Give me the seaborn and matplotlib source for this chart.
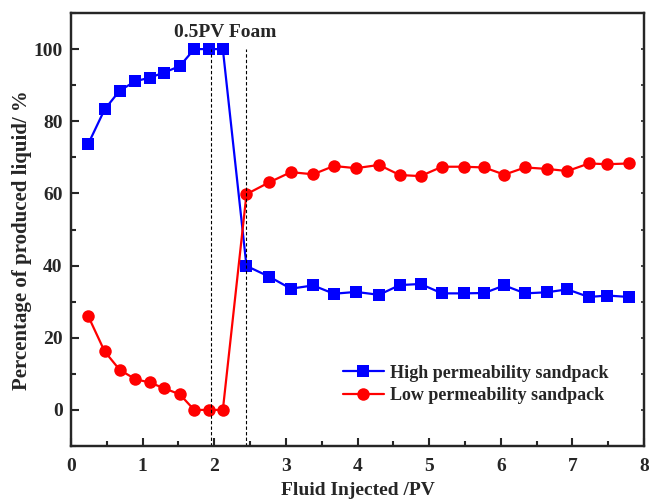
import matplotlib
matplotlib.use("Agg")
import matplotlib.pyplot as plt
import seaborn as sns
from matplotlib.ticker import MultipleLocator

# Fluid injected (PV) and share of produced liquid (%)
pv = [0.24, 0.47, 0.68, 0.90, 1.10, 1.30, 1.52, 1.72, 1.92, 2.12,
      2.45, 2.77, 3.07, 3.38, 3.67, 3.98, 4.30, 4.59, 4.88, 5.18,
      5.48, 5.77, 6.05, 6.34, 6.64, 6.93, 7.23, 7.49, 7.79]
high_perm = [73.7, 83.3, 88.5, 91.1, 92.1, 93.5, 95.3, 100, 100, 100,
             39.9, 36.9, 33.6, 34.5, 32.2, 32.7, 31.9, 34.6, 34.9, 32.3,
             32.3, 32.4, 34.5, 32.3, 32.6, 33.4, 31.3, 31.7, 31.3]
low_perm = [26.0, 16.2, 11.1, 8.5, 7.6, 6.0, 4.3, 0, 0, 0,
            59.8, 63.1, 65.9, 65.3, 67.6, 67.0, 67.9, 65.1, 64.8, 67.4,
            67.4, 67.2, 65.2, 67.2, 66.8, 66.2, 68.3, 68.1, 68.3]
foam_start, foam_end = 1.95, 2.45

sns.set_style("ticks")
plt.rcParams['font.family'] = ['Liberation Serif', 'DejaVu Serif']
plt.rcParams['font.weight'] = 'bold'
plt.rcParams['axes.labelweight'] = 'bold'

fig = plt.figure(figsize=(6.49, 5.01), dpi=100)
ax = fig.add_axes([0.1094, 0.1098, 0.8829, 0.8642])

sns.lineplot(x=pv, y=high_perm, ax=ax, color='#0000ff', marker='s',
             markersize=8.3, markeredgecolor='#0000ff', markeredgewidth=0,
             linewidth=1.6, label='High permeability sandpack')
sns.lineplot(x=pv, y=low_perm, ax=ax, color='#ff0000', marker='o',
             markersize=9, markeredgecolor='#ff0000', markeredgewidth=0,
             linewidth=1.6, label='Low permeability sandpack')

# foam slug markers
ax.vlines([foam_start, foam_end], -10, 100, colors='black',
          linestyles=(0, (3, 2)), linewidth=0.8)
ax.text((foam_start + foam_end) / 2 - 0.05, 104.5, '0.5PV Foam', ha='center',
        va='center', fontsize=14, fontweight='bold')

ax.set_xlim(0, 8)
ax.set_ylim(-10, 110)
ax.xaxis.set_major_locator(MultipleLocator(1))
ax.xaxis.set_minor_locator(MultipleLocator(0.5))
ax.yaxis.set_major_locator(MultipleLocator(20))
ax.yaxis.set_minor_locator(MultipleLocator(10))
ax.tick_params(which='major', direction='in', length=6, width=1.5,
               labelsize=14, pad=6)
ax.tick_params(which='minor', direction='in', length=3.5, width=1.5)
ax.tick_params(axis='x', pad=9)

# small ticks on the right side
ax2 = ax.twinx()
ax2.set_ylim(-10, 110)
ax2.yaxis.set_major_locator(MultipleLocator(10))
ax2.tick_params(axis='y', direction='in', length=2, width=1.2, labelright=False)
ax2.grid(False)

for a in (ax, ax2):
    for s in a.spines.values():
        s.set_linewidth(1.6)
        s.set_visible(True)

ax.set_xlabel('Fluid Injected /PV', fontsize=14, labelpad=5)
ax.set_ylabel('Percentage of produced liquid/ %', fontsize=15)
ax.yaxis.set_label_coords(-0.068, 0.476)

ax.legend(loc='center left', bbox_to_anchor=(0.474, 0.142), frameon=False,
          fontsize=13, handlelength=2.3, handletextpad=0.3, labelspacing=0.3,
          borderpad=0, borderaxespad=0)

fig.savefig('out.png', dpi=100)
